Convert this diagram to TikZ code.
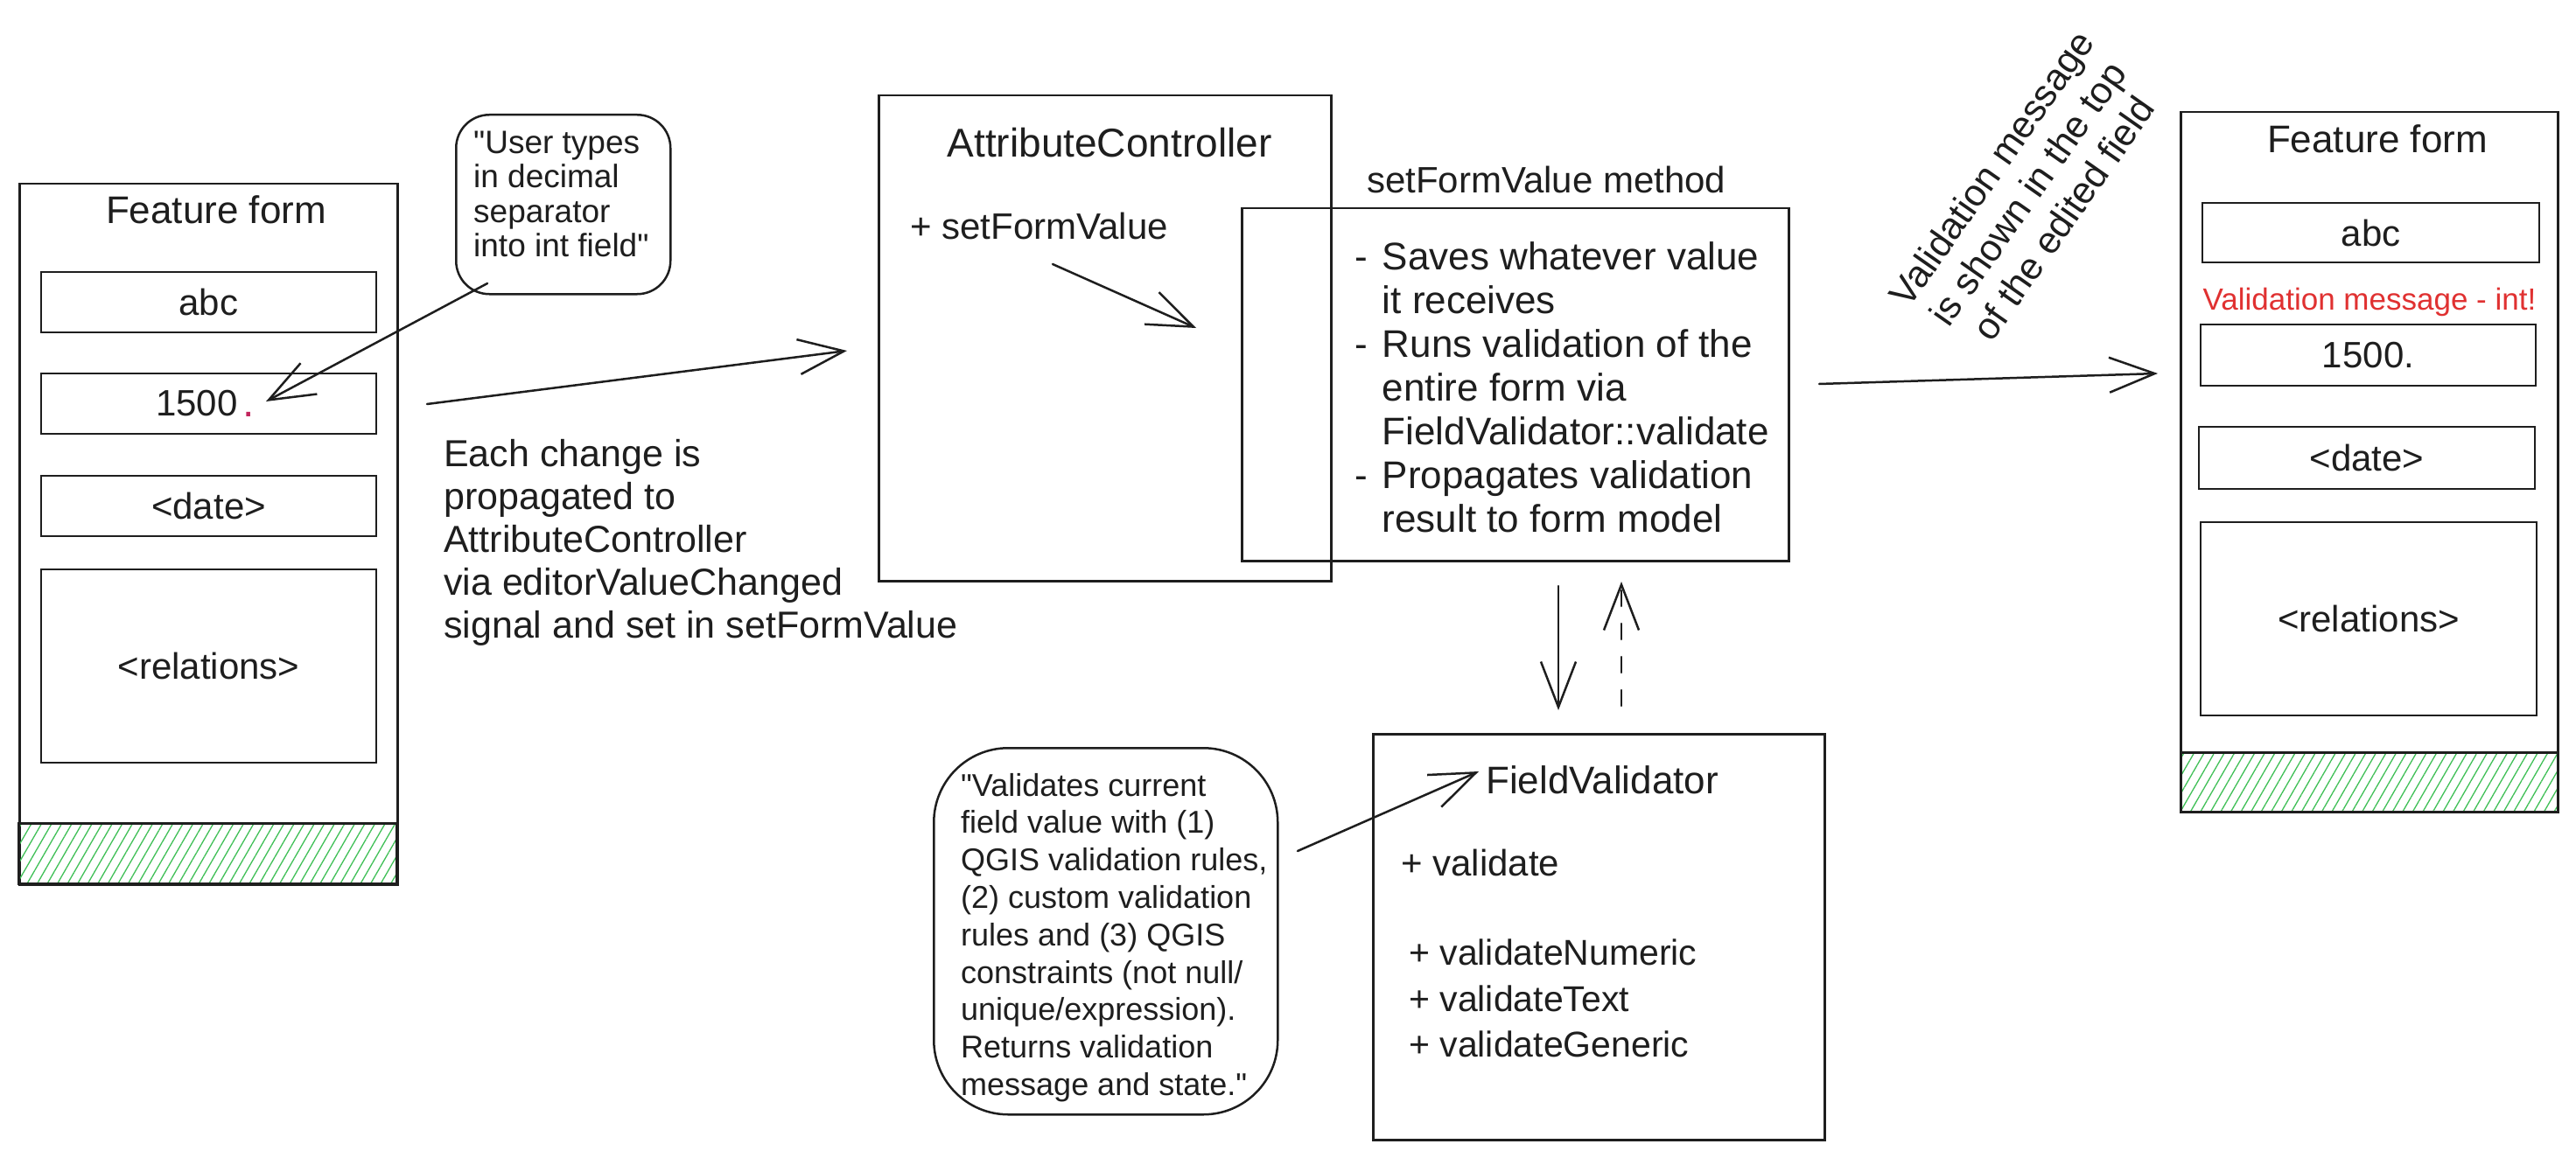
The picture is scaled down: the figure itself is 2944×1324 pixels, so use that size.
\documentclass[tikz,border=0pt]{standalone}
\usepackage{fontspec}
\setmainfont{Liberation Sans}
\usetikzlibrary{arrows.meta,patterns.meta}
\definecolor{exred}{HTML}{E03131}
\definecolor{exgreen}{HTML}{40C057}
\definecolor{expink}{HTML}{C2255C}
\definecolor{ink}{HTML}{1E1E1E}
\begin{document}
\begin{tikzpicture}[x=1pt,y=-1pt,
  box/.style={draw=ink, line width=2.5pt, inner sep=0pt},
  band/.style={draw=ink, line width=2.5pt, inner sep=0pt, pattern={Lines[angle=60,distance=10pt,line width=1.3pt]}, pattern color=exgreen},
  field/.style={draw=ink, line width=2.5pt, inner sep=0pt, font=\fontsize{42}{48}\selectfont},
  callout/.style={draw=ink, line width=2.5pt, inner sep=0pt},
  txt/.style={text=ink, inner sep=0pt},
  arr/.style={draw=ink, line width=2.5pt, line cap=round, -{Straight Barb[length=52pt,width=40pt,line width=2.5pt]}},
  every node/.append style={text=ink}
]
\useasboundingbox (0,0) rectangle (2944,1324);
\fill[white] (0,0) rectangle (2944,1324);

% ---------- Left feature form ----------
\node[box, anchor=north west, minimum width=432pt, minimum height=801pt] (lform) at (21,209) {};
\node[band, anchor=north west, minimum width=432pt, minimum height=69pt] (lband) at (21,941) {};
\node[txt, font=\fontsize{44}{50}\selectfont] (ltitle) at (247,240) {Feature form};
\node[field, minimum width=383pt, minimum height=69pt] (labc) at (238.5,345.5) {abc};
\node[field, minimum width=383pt, minimum height=69pt] (lnum) at (238.5,461.5) {};
\node[txt, font=\fontsize{42}{48}\selectfont] (lnumt) at (225,461.5) {1500};
\node[txt, font=\fontsize{48}{48}\selectfont, text=expink, anchor=base] (ldot) at (284,476) {.};
\node[field, minimum width=383pt, minimum height=69pt] (ldate) at (238.5,578.5) {<date>};
\node[field, minimum width=383pt, minimum height=221pt] (lrel) at (238.5,761.5) {<relations>};

% ---------- Callout 1 ----------
\node[callout, rounded corners=38pt, anchor=north west, minimum width=245pt, minimum height=205pt] (c1) at (520,130) {};
\node[txt, font=\fontsize{37}{39.5}\selectfont, align=left, anchor=west] (c1t) at (541,222) {\textquotedbl User types\\in decimal\\separator\\into int field\textquotedbl};
\coordinate (c1a) at (557,324);
\coordinate (c1b) at (304,459);
\draw[arr] (c1a) -- (c1b);

% ---------- Propagation text and arrow ----------
\node[txt, font=\fontsize{43}{49}\selectfont, align=left, anchor=west] (ptext) at (507,620) {Each change is\\propagated to\\AttributeController\\via editorValueChanged\\signal and set in setFormValue};
\coordinate (pa) at (488,462);
\coordinate (pb) at (968,401);
\draw[arr] (pa) -- (pb);

% ---------- AttributeController ----------
\node[box, anchor=north west, minimum width=517pt, minimum height=555pt] (ac) at (1003,108) {};
\node[txt, font=\fontsize{46}{52}\selectfont] (actitle) at (1268,163) {AttributeController};
\node[txt, font=\fontsize{42}{48}\selectfont, anchor=west] (acm) at (1040,258) {+ setFormValue};
\coordinate (sa) at (1203,302);
\coordinate (sb) at (1367,375);
\draw[arr] (sa) -- (sb);

% ---------- setFormValue method ----------
\node[txt, font=\fontsize{42}{48}\selectfont, anchor=west] (mlabel) at (1562,205) {setFormValue method};
\node[box, anchor=north west, minimum width=625pt, minimum height=403pt] (mbox) at (1418,237) {};
\node[txt, font=\fontsize{44}{50}\selectfont, anchor=west] (mtext) at (1548,448.5) {%
\begin{tabular}{@{}l@{\hspace{17pt}}l@{}}
- & Saves whatever value\\
  & it receives\\
- & Runs validation of the\\
  & entire form via\\
  & FieldValidator::validate\\
- & Propagates validation\\
  & result to form model
\end{tabular}};

% ---------- arrows between method and validator ----------
\coordinate (da) at (1781,670);
\coordinate (db) at (1781,812);
\draw[arr] (da) -- (db);
\coordinate (ua) at (1853,807);
\coordinate (ub) at (1853,665);
\draw[arr, dash pattern=on 18pt off 20pt] (ua) -- (ub);

% ---------- FieldValidator ----------
\node[box, anchor=north west, minimum width=516pt, minimum height=464pt] (fv) at (1568,838) {};
\node[txt, font=\fontsize{44}{50}\selectfont, anchor=west] (fvtitle) at (1698,892) {FieldValidator};
\node[txt, font=\fontsize{42}{48}\selectfont, anchor=west] (fvv) at (1601,986) {+ validate};
\node[txt, font=\fontsize{41}{52.5}\selectfont, align=left, anchor=west] (fvm) at (1610,1141.5) {+ validateNumeric\\+ validateText\\+ validateGeneric};

% ---------- Callout 2 ----------
\node[callout, rounded corners=85pt, anchor=north west, minimum width=393pt, minimum height=419pt] (c2) at (1066,854) {};
\node[txt, font=\fontsize{36}{42.8}\selectfont, align=left, anchor=west] (c2t) at (1098,1072) {\textquotedbl Validates current\\field value with (1)\\QGIS validation rules,\\(2) custom validation\\rules and (3) QGIS\\constraints (not null/\\unique/expression).\\Returns validation\\message and state.\textquotedbl};
\coordinate (c2a) at (1483,973);
\coordinate (c2b) at (1690,882);
\draw[arr] (c2a) -- (c2b);

% ---------- Arrow to right form + rotated note ----------
\coordinate (ra) at (2079,439);
\coordinate (rb) at (2466,427);
\draw[arr] (ra) -- (rb);
\node[txt, font=\fontsize{43}{50}\selectfont, align=center, rotate=55] (rnote) at (2317,221) {Validation message\\is shown in the top\\of the edited field};

% ---------- Right feature form ----------
\node[box, anchor=north west, minimum width=431pt, minimum height=800pt] (rform) at (2491,127) {};
\node[band, anchor=north west, minimum width=431pt, minimum height=68pt] (rband) at (2491,859) {};
\node[txt, font=\fontsize{44}{50}\selectfont] (rtitle) at (2717,159) {Feature form};
\node[field, minimum width=385pt, minimum height=68pt] (rabc) at (2709.5,266) {abc};
\node[txt, font=\fontsize{35}{40}\selectfont, text=exred] (rmsg) at (2708,345) {Validation message - int!};
\node[field, minimum width=383pt, minimum height=70pt] (rnum) at (2706.5,406) {1500.};
\node[field, minimum width=384pt, minimum height=71pt] (rdate) at (2705,523.5) {<date>};
\node[field, minimum width=384pt, minimum height=221pt] (rrel) at (2707,707.5) {<relations>};
\end{tikzpicture}
\end{document}
